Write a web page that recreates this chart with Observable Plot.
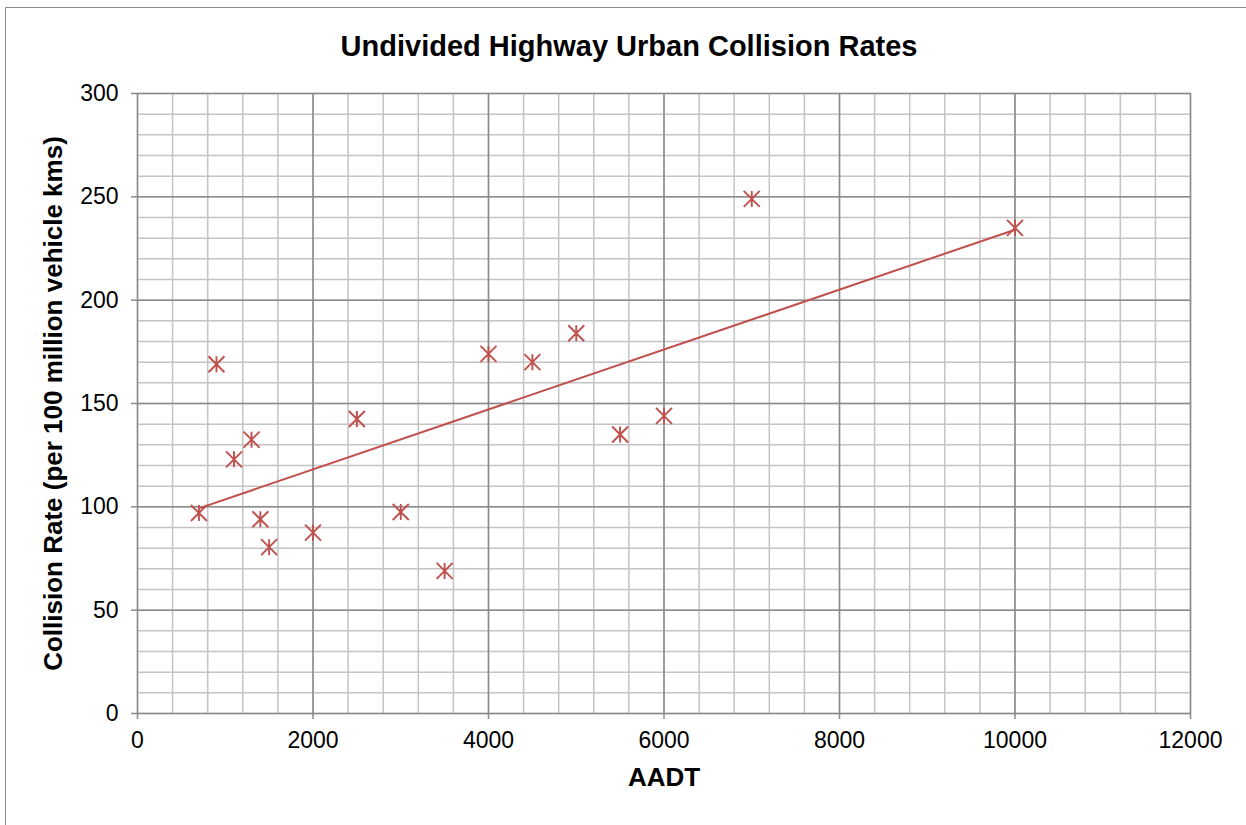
<!DOCTYPE html>
<html>
<head>
<meta charset="utf-8">
<script src="https://cdn.jsdelivr.net/npm/d3@7"></script>
<script src="https://cdn.jsdelivr.net/npm/@observablehq/plot@0.6"></script>
<style>
  html, body { margin: 0; padding: 0; background: #fff; }
  #chart { position: relative; width: 1246px; height: 825px; overflow: hidden; font-family: "Liberation Sans", Arial, sans-serif; }
  #border { position: absolute; left: 5px; top: 7px; right: -10px; bottom: -10px; border-left: 1.5px solid #8c8c8c; border-top: 1.5px solid #8c8c8c; pointer-events: none; }
  #chart svg { position: absolute; left: 0; top: 0; }
</style>
</head>
<body>
<div id="chart"><div id="border"></div></div>
<script>
// Annual average daily traffic and the observed collision rate at each site
const aadt = [700, 900, 1100, 1300, 1400, 1500, 2000, 2500, 3000, 3500, 4000, 4500, 5000, 5500, 6000, 7000, 10000];
const collisionRate = [97, 169, 123, 132.5, 94, 80.5, 87.5, 142.5, 97.5, 69, 174, 170, 184, 135, 144, 249, 235];

// Axis ticks and gridline steps
const xTicks = [0, 2000, 4000, 6000, 8000, 10000, 12000];
const yTicks = [0, 50, 100, 150, 200, 250, 300];
const xMinor = d3.range(0, 12001, 400);
const yMinor = d3.range(0, 301, 10);

const titleText = "Undivided Highway Urban Collision Rates";
const xLabel = "AADT";
const yLabel = "Collision Rate (per 100 million vehicle kms)";

const sites = aadt.map((x, i) => ({aadt: x, rate: collisionRate[i]}));

const red = "#c0504d";
const majorGrid = "#8a8a8a";
const minorGrid = "#c4c4c4";

// Spreadsheet-style star marker: an X crossed by a vertical stroke
const star = {
  draw(context, size) {
    const r = Math.sqrt(size / Math.PI);
    context.moveTo(-r, -r); context.lineTo(r, r);
    context.moveTo(r, -r); context.lineTo(-r, r);
    context.moveTo(0, -r); context.lineTo(0, r);
  }
};

const chart = Plot.plot({
  width: 1246,
  height: 825,
  marginLeft: 137,
  marginRight: 56,
  marginTop: 93,
  marginBottom: 112,
  style: {fontFamily: "'Liberation Sans', Arial, sans-serif", color: "#000", background: "transparent"},
  x: {domain: [0, 12000]},
  y: {domain: [0, 300]},
  marks: [
    Plot.ruleX(xMinor, {stroke: minorGrid, strokeWidth: 1.5}),
    Plot.ruleY(yMinor, {stroke: minorGrid, strokeWidth: 1.5}),
    Plot.ruleX(xTicks, {stroke: majorGrid, strokeWidth: 1.5}),
    Plot.ruleY(yTicks, {stroke: majorGrid, strokeWidth: 1.5}),
    Plot.axisX({ticks: xTicks, tickSize: 6, tickPadding: 12, fontSize: 23, stroke: majorGrid, strokeWidth: 1.5, label: null, tickFormat: d => String(d)}),
    Plot.axisY({ticks: yTicks, tickSize: 6, tickPadding: 13, fontSize: 23, stroke: majorGrid, strokeWidth: 1.5, label: null}),
    Plot.linearRegressionY(sites, {x: "aadt", y: "rate", stroke: red, strokeWidth: 2, ci: 0}),
    Plot.dot(sites, {x: "aadt", y: "rate", symbol: star, r: 8, fill: "none", stroke: red, strokeWidth: 1.9}),
    Plot.text([titleText], {frameAnchor: "top", lineAnchor: "middle", textAnchor: "middle", dx: -35, dy: -47, fontSize: 29, fontWeight: "bold", fill: "#000"}),
    Plot.text([xLabel], {frameAnchor: "bottom", lineAnchor: "middle", textAnchor: "middle", dy: 64, fontSize: 26, fontWeight: "bold", fill: "#000"}),
    Plot.text([yLabel], {frameAnchor: "left", lineAnchor: "middle", textAnchor: "middle", dx: -84, rotate: -90, fontSize: 26, fontWeight: "bold", fill: "#000"})
  ]
});

document.getElementById("chart").prepend(chart);
</script>
</body>
</html>
